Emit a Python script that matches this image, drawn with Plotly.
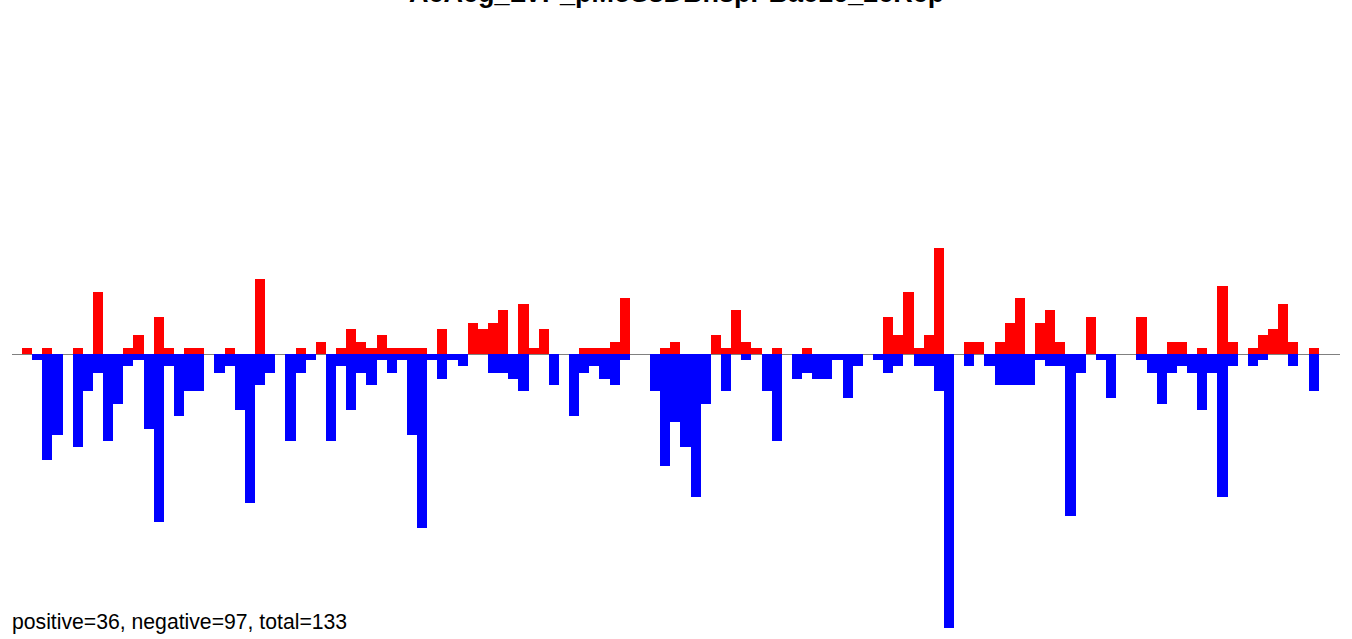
import plotly.graph_objects as go

# slot index along the sequence
slots = list(range(128))

positive_values = [
    1, 0, 1, 0, 0, 1, 0, 10, 0, 0,
    1, 3, 0, 6, 1, 0, 1, 1, 0, 0,
    1, 0, 0, 12, 0, 0, 0, 1, 0, 2,
    0, 1, 4, 2, 1, 3, 1, 1, 1, 1,
    0, 4, 0, 0, 5, 4, 5, 7, 0, 8,
    1, 4, 0, 0, 0, 1, 1, 1, 2, 9,
    0, 0, 0, 1, 2, 0, 0, 0, 3, 1,
    7, 2, 1, 0, 1, 0, 0, 1, 0, 0,
    0, 0, 0, 0, 0, 6, 3, 10, 1, 3,
    17, 0, 0, 2, 2, 0, 2, 5, 9, 0,
    5, 7, 2, 0, 0, 6, 0, 0, 0, 0,
    6, 0, 0, 2, 2, 0, 1, 0, 11, 2,
    0, 1, 3, 4, 8, 2, 0, 1,
]

negative_values = [
    0, 1, 17, 13, 0, 15, 6, 3, 14, 8,
    2, 1, 12, 27, 2, 10, 6, 6, 0, 3,
    2, 9, 24, 5, 3, 0, 14, 3, 1, 0,
    14, 2, 9, 3, 5, 1, 3, 1, 13, 28,
    1, 4, 1, 2, 0, 0, 3, 3, 4, 6,
    0, 0, 5, 0, 10, 3, 2, 4, 5, 1,
    0, 0, 6, 18, 11, 15, 23, 8, 0, 6,
    0, 1, 0, 6, 14, 0, 4, 3, 4, 4,
    1, 7, 2, 0, 1, 3, 2, 0, 2, 2,
    6, 44, 0, 2, 0, 2, 5, 5, 5, 5,
    1, 2, 2, 26, 3, 0, 1, 7, 0, 0,
    1, 3, 8, 3, 2, 3, 9, 3, 23, 2,
    0, 2, 1, 0, 0, 2, 0, 6,
]

title_text = "AeAeg_LVP_pMoSsDBhspPBac16_2eRep"
summary_text = "positive=36, negative=97, total=133"

W, H = 1352, 639
ML, MR, MT, MB = 12, 12, 77, 8
plot_h = H - MT - MB
plot_w = W - ML - MR

fig = go.Figure()
fig.add_trace(go.Bar(x=slots, y=positive_values, marker=dict(color="#FF0000", line=dict(width=0)),
                     hoverinfo="skip", showlegend=False))
fig.add_trace(go.Bar(x=slots, y=[-v for v in negative_values], marker=dict(color="#0000FF", line=dict(width=0)),
                     hoverinfo="skip", showlegend=False))

def py(pixel_y):
    return (H - MB - pixel_y) / plot_h

def px(pixel_x):
    return (pixel_x - ML) / plot_w

fig.add_annotation(text="<b>" + title_text + "</b>", xref="paper", yref="paper", x=0.5, y=py(10),
                   xanchor="center", yanchor="bottom", showarrow=False,
                   font=dict(family="Liberation Sans, Arial", size=27, color="black"))
fig.add_annotation(text=summary_text, xref="paper", yref="paper", x=px(10), y=py(621.5),
                   xanchor="left", yanchor="middle", showarrow=False,
                   font=dict(family="Liberation Sans, Arial", size=21.2, color="black"))

fig.update_layout(
    width=W, height=H,
    margin=dict(l=ML, r=MR, t=MT, b=MB, pad=0),
    barmode="overlay", bargap=0,
    plot_bgcolor="white", paper_bgcolor="white",
    xaxis=dict(range=[-1.487, 129.6], showgrid=False, zeroline=False, showticklabels=False,
               ticks="", showline=False),
    yaxis=dict(range=[-44.5, 44.5], showgrid=False, zeroline=True, zerolinecolor="#808080",
               zerolinewidth=1, showticklabels=False, ticks="", showline=False),
)

# remove the default page margin so the figure fills the window exactly
fig.write_html("out.html", config={"displayModeBar": False},
               post_script="document.body.style.margin='0';document.body.style.overflow='hidden';")
